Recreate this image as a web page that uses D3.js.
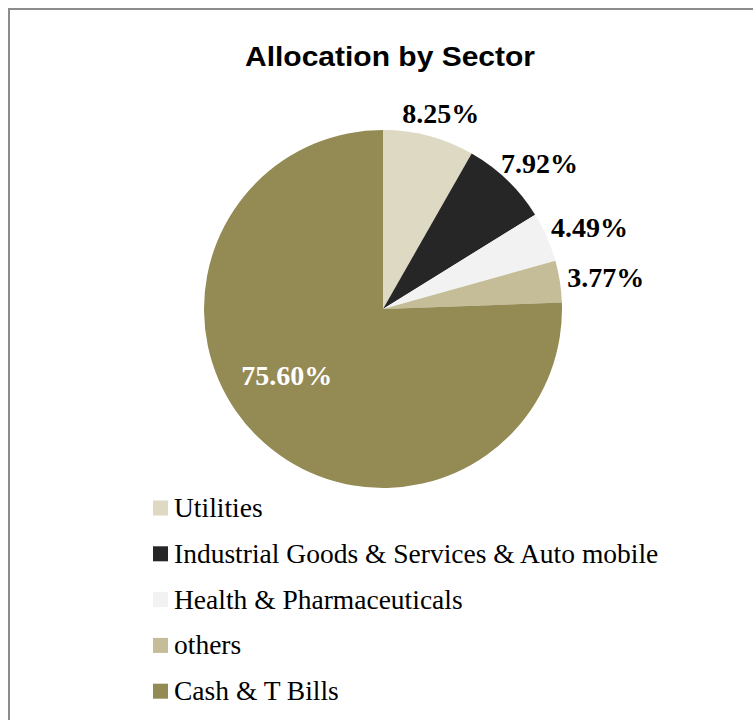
<!DOCTYPE html>
<html>
<head>
<meta charset="utf-8">
<script src="https://cdn.jsdelivr.net/npm/d3@7/dist/d3.min.js"></script>
<style>
  body { margin: 0; background: #fff; }
</style>
</head>
<body>
<div id="chart"></div>
<script>
var sectors = ["Utilities", "Industrial Goods & Services & Auto mobile", "Health & Pharmaceuticals", "others", "Cash & T Bills"];
var shares  = [8.25, 7.92, 4.49, 3.77, 75.60];
var labels  = ["8.25%", "7.92%", "4.49%", "3.77%", "75.60%"];
var sectorColors = ["#DDD9C3", "#262626", "#F2F2F2", "#C4BD97", "#948A54"];

var width = 753, height = 720;
var cx = 383, cy = 309, radius = 179;

var data = sectors.map(function(s, i) {
    return { name: s, value: shares[i], label: labels[i], idx: i };
});

var color = d3.scaleOrdinal().domain(sectors).range(sectorColors);

var svg = d3.select("#chart")
    .append("svg")
    .attr("width", width)
    .attr("height", height);

// frame, runs off the right and bottom edges like the source
svg.append("rect")
    .attr("x", 9).attr("y", 9)
    .attr("width", 800).attr("height", 800)
    .attr("fill", "none")
    .attr("stroke", "#8c8c8c")
    .attr("stroke-width", 2);

svg.append("text")
    .attr("x", 390)
    .attr("y", 66)
    .attr("text-anchor", "middle")
    .attr("font-family", "Liberation Sans, Arial, sans-serif")
    .attr("font-weight", "bold")
    .attr("font-size", 28)
    .attr("textLength", 290)
    .attr("lengthAdjust", "spacingAndGlyphs")
    .text("Allocation by Sector");

var pie = d3.pie().sort(null).value(function(d) { return d.value; });
var arc = d3.arc().innerRadius(0).outerRadius(radius);

var g = svg.append("g").attr("transform", "translate(" + cx + "," + cy + ")");
var arcs = pie(data);

g.selectAll(".slice")
    .data(arcs)
    .enter().append("path")
    .attr("class", "slice")
    .attr("d", arc)
    .attr("fill", function(d) { return color(d.data.name); });

var labelFont = "Liberation Serif, Cambria, serif";

arcs.forEach(function(d) {
    var a = (d.startAngle + d.endAngle) / 2;
    var sa = Math.sin(a), ca = Math.cos(a);
    var t = g.append("text")
        .attr("font-family", labelFont)
        .attr("font-weight", "bold")
        .attr("font-size", 28)
        .attr("text-anchor", "middle")
        .attr("dominant-baseline", "central")
        .text(d.data.label);
    if (d.data.value > 50) {
        // big slice: label inside, white
        var c = d3.arc().innerRadius(0).outerRadius(radius * 1.1).centroid(d);
        t.attr("x", c[0] - 28).attr("y", c[1] - 4).attr("fill", "#fff");
    } else {
        var bb = t.node().getBBox();
        var gap = 8;
        var px = (radius + gap) * sa + bb.width / 2 * sa;
        var py = -(radius + gap) * ca - bb.height / 2 * ca;
        t.attr("x", px).attr("y", py).attr("fill", "#000");
    }
});

var legend = svg.append("g").attr("transform", "translate(153,508)");
var row = legend.selectAll(".row")
    .data(data)
    .enter().append("g")
    .attr("class", "row")
    .attr("transform", function(d, i) { return "translate(0," + (i * 45.8) + ")"; });

row.append("rect")
    .attr("x", 0).attr("y", -7.5)
    .attr("width", 15).attr("height", 15)
    .attr("fill", function(d) { return color(d.name); });

row.append("text")
    .attr("x", 21)
    .attr("y", 9)
    .attr("font-family", labelFont)
    .attr("font-size", 27.5)
    .attr("fill", "#000")
    .text(function(d) { return d.name; });
</script>
</body>
</html>
